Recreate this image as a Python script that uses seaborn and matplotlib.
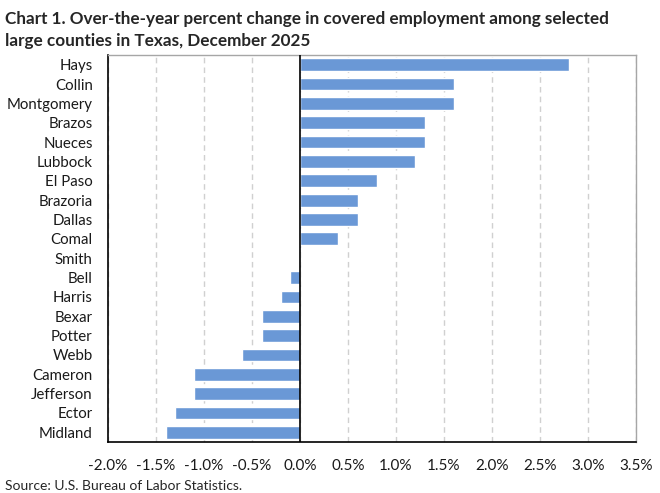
import matplotlib
matplotlib.use("Agg")
import matplotlib.pyplot as plt
import seaborn as sns
import pandas as pd
from matplotlib.ticker import FuncFormatter, MultipleLocator

counties = ["Hays", "Collin", "Montgomery", "Brazos", "Nueces", "Lubbock", "El Paso",
            "Brazoria", "Dallas", "Comal", "Smith", "Bell", "Harris", "Bexar", "Potter",
            "Webb", "Cameron", "Jefferson", "Ector", "Midland"]
pct_change = [2.8, 1.6, 1.6, 1.3, 1.3, 1.2, 0.8, 0.6, 0.6, 0.4, 0.0, -0.1, -0.2, -0.4,
              -0.4, -0.6, -1.1, -1.1, -1.3, -1.4]

title = ("Chart 1. Over-the-year percent change in covered employment among selected\n"
         "large counties in Texas, December 2025")
source = "Source: U.S. Bureau of Labor Statistics."


def main():
    sns.set_theme(style="white")
    plt.rcParams["font.family"] = ["Lato", "DejaVu Sans"]

    df = pd.DataFrame({"county": counties, "change": pct_change})

    fig = plt.figure(figsize=(6.6, 4.93), dpi=100)
    ax = fig.add_axes([0.1636, 0.1034, 0.80, 0.785])

    sns.barplot(data=df, x="change", y="county", orient="h", color="#6a98d6",
                saturation=1, width=0.66, ax=ax)

    ax.set_xlim(-2.0, 3.5)
    ax.set_ylim(len(counties) - 0.5, -0.5)
    ax.xaxis.set_major_locator(MultipleLocator(0.5))
    ax.xaxis.set_major_formatter(FuncFormatter(lambda v, p: f"{v:.1f}%"))
    ax.set_xlabel("")
    ax.set_ylabel("")

    ax.grid(axis="x", color="#d0d0d0", linestyle=(0, (4, 3)), linewidth=1)
    ax.set_axisbelow(True)
    ax.axvline(0, color="black", linewidth=1.2, zorder=3)

    for side in ["top", "right"]:
        ax.spines[side].set_color("#a6a6a6")
        ax.spines[side].set_linewidth(1)
    for side in ["bottom", "left"]:
        ax.spines[side].set_color("black")
        ax.spines[side].set_linewidth(1.2)

    ax.tick_params(axis="x", length=0, pad=12, labelsize=11, colors="#1a1a1a")
    ax.tick_params(axis="y", length=0, pad=11, labelsize=10.8, colors="#1a1a1a")

    fig.text(0.008, 0.978, title, ha="left", va="top", fontsize=12.3, fontweight="bold",
             linespacing=1.45)
    fig.text(0.008, 0.003, source, ha="left", va="bottom", fontsize=10)

    fig.savefig("out.png", dpi=100)


if __name__ == "__main__":
    main()
